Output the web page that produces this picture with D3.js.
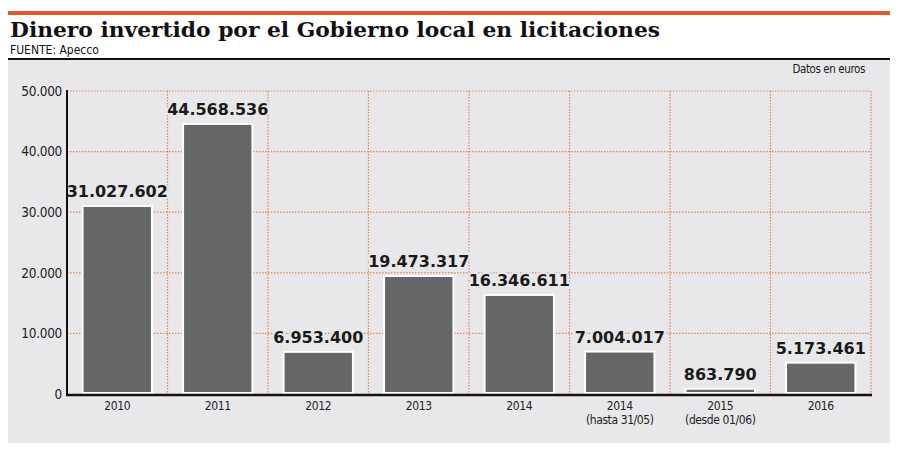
<!DOCTYPE html>
<html><head><meta charset="utf-8">
<script src="https://cdn.jsdelivr.net/npm/d3@7"></script>
<style>body{margin:0;background:#fff}svg{display:block}</style>
</head><body>
<svg id="c" width="900" height="452"></svg>
<script>
const categories = ["2010","2011","2012","2013","2014","2014\n(hasta 31/05)","2015\n(desde 01/06)","2016"];
const values = [31027602, 44568536, 6953400, 19473317, 16346611, 7004017, 863790, 5173461];
const yTicks = [0, 10000000, 20000000, 30000000, 40000000, 50000000];
const title = "Dinero invertido por el Gobierno local en licitaciones";
const source = "FUENTE: Apecco";
const unitNote = "Datos en euros";

const svg = d3.select("#c");
const panelBg = "#e8e8ea";
const orange = "#e2572b";
const gridCol = "#e4653f";
const barCol = "#646668";

const locale = d3.formatLocale({decimal: ",", thousands: ".", grouping: [3], currency: ["", "€"]});
const fmt = locale.format(",d");

// header
svg.append("rect").attr("x", 8).attr("y", 11).attr("width", 882).attr("height", 4).attr("fill", orange);
svg.append("text").attr("x", 10).attr("y", 37).text(title)
  .attr("font-family", "DejaVu Serif").attr("font-weight", "bold").attr("font-size", 20)
  .attr("textLength", 650).attr("lengthAdjust", "spacingAndGlyphs").attr("fill", "#111");
svg.append("text").attr("x", 10).attr("y", 54).text(source)
  .attr("font-family", "DejaVu Sans Condensed, DejaVu Sans").attr("font-size", 12).attr("fill", "#111");
svg.append("rect").attr("x", 8).attr("y", 60).attr("width", 882).attr("height", 383).attr("fill", panelBg);
svg.append("rect").attr("x", 8).attr("y", 58).attr("width", 882).attr("height", 2).attr("fill", "#111");
svg.append("text").attr("x", 865).attr("y", 73).attr("text-anchor", "end").text(unitNote)
  .attr("font-family", "DejaVu Sans Condensed, DejaVu Sans").attr("font-size", 11.5).attr("letter-spacing", -0.4).attr("fill", "#222");

const m = {left: 67, right: 871, top: 91, bottom: 394};
const x = d3.scaleBand().domain(categories).range([m.left, m.right]).paddingInner(0.31).paddingOuter(0.155);
const xb = d3.scaleBand().domain(categories).range([m.left, m.right]);
const y = d3.scaleLinear().domain([0, 50000000]).range([m.bottom, m.top]);

const g = svg.append("g");
// horizontal grid
g.selectAll("line.h").data(yTicks.filter(d => d > 0)).join("line")
  .attr("x1", m.left).attr("x2", m.right).attr("y1", d => y(d)).attr("y2", d => y(d))
  .attr("stroke", gridCol).attr("stroke-width", 1.2).attr("stroke-opacity", 0.8).attr("stroke-dasharray", "1.5,1.5");
// vertical grid at band boundaries
const bounds = categories.slice(1).map(c => xb(c)).concat([m.right]);
g.selectAll("line.v").data(bounds).join("line")
  .attr("x1", d => d).attr("x2", d => d).attr("y1", m.top).attr("y2", m.bottom)
  .attr("stroke", gridCol).attr("stroke-width", 1.2).attr("stroke-opacity", 0.8).attr("stroke-dasharray", "1.5,1.5");

// bars
g.selectAll("rect.bar").data(values).join("rect")
  .attr("x", (d, i) => x(categories[i])).attr("width", x.bandwidth())
  .attr("y", d => y(d)).attr("height", d => m.bottom - 1 - y(d))
  .attr("fill", barCol).attr("stroke", "#fff").attr("stroke-width", 2);

// value labels
g.selectAll("text.val").data(values).join("text")
  .attr("x", (d, i) => x(categories[i]) + x.bandwidth() / 2)
  .attr("y", d => y(d) - 9)
  .attr("text-anchor", "middle")
  .attr("font-family", "DejaVu Sans").attr("font-weight", "bold").attr("font-size", 16)
  .attr("fill", "#1a1a1a")
  .attr("stroke", panelBg).attr("stroke-width", 4).attr("paint-order", "stroke")
  .text(d => fmt(d));

// y axis
const yAxis = d3.axisLeft(y).tickValues(yTicks).tickSize(0).tickPadding(5)
  .tickFormat(d => fmt(d / 1000));
const ya = svg.append("g").attr("transform", `translate(${m.left},0)`).call(yAxis);
ya.select(".domain").remove();
ya.selectAll("text").attr("font-family", "DejaVu Sans Condensed, DejaVu Sans").attr("font-size", 13.5)
  .attr("letter-spacing", -0.3).attr("fill", "#222");
svg.append("line").attr("x1", m.left).attr("x2", m.left).attr("y1", m.top - 1).attr("y2", m.bottom + 1)
  .attr("stroke", "#111").attr("stroke-width", 2);

// x axis
const xAxis = d3.axisBottom(xb).tickSize(0).tickPadding(0).tickFormat(() => "");
const xa = svg.append("g").attr("transform", `translate(0,${m.bottom})`).call(xAxis);
xa.select(".domain").remove();
svg.append("line").attr("x1", m.left - 1).attr("x2", m.right + 1).attr("y1", m.bottom + 1).attr("y2", m.bottom + 1)
  .attr("stroke", "#111").attr("stroke-width", 2.5);
xa.selectAll(".tick").each(function(d) {
  const t = d3.select(this).append("text").attr("fill", "#222")
    .attr("font-family", "DejaVu Sans Condensed, DejaVu Sans").attr("font-size", 12)
    .attr("letter-spacing", -0.4).attr("text-anchor", "middle");
  d.split("\n").forEach((line, i) => {
    t.append("tspan").attr("x", 0).attr("y", 16 + i * 13.5).text(line);
  });
});
</script>
</body></html>
